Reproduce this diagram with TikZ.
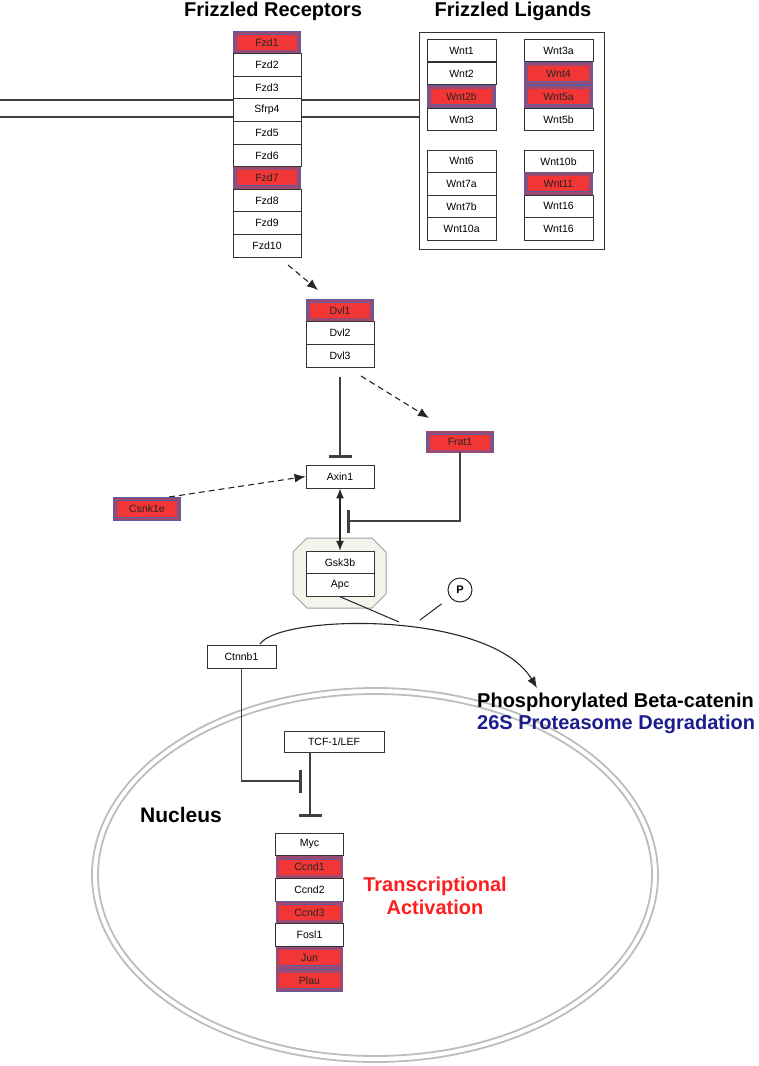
\documentclass[tikz,border=0pt]{standalone}
\usepackage{fontspec}
\setmainfont{Liberation Sans}
\usetikzlibrary{arrows.meta,calc}
\definecolor{hred}{HTML}{F23535}
\definecolor{hmauve}{HTML}{9C4A72}
\definecolor{hblue}{HTML}{5C5CA0}
\definecolor{navy}{HTML}{1C1C8C}
\definecolor{nucgray}{HTML}{BDBDBD}
\definecolor{octfill}{HTML}{F4F4EC}
\definecolor{octline}{HTML}{A0A0A0}
\definecolor{tred}{HTML}{FF1E1E}
\begin{document}
\begin{tikzpicture}[x=1pt,y=-1pt,
  every node/.style={font=\fontsize{10.5}{12}\selectfont},
  wbox/.style={draw=black!80, fill=white, line width=0.9pt, minimum width=68pt, minimum height=22.6pt, inner sep=0pt},
  hbox/.style={draw=hblue, double=hmauve, double distance=2.8pt, line width=0.5pt, fill=hred, minimum width=64pt, minimum height=18.8pt, inner sep=0pt, text=black!85},
  lw/.style={wbox, minimum width=69pt},
  lh/.style={hbox, minimum width=65pt},
  big/.style={font=\bfseries\fontsize{20}{22}\selectfont, inner sep=0pt},
  arr/.style={-{Latex[length=11pt,width=9pt]}, line width=1.1pt, black!85},
  dasharr/.style={arr, dash pattern=on 6pt off 4pt},
  inhib/.style={-{Bar[width=23pt,line width=2.6pt]}, line width=1.1pt, black!75},
  memb/.style={line width=1.1pt, black!75},
  nuc/.style={draw=nucgray, line width=1.8pt}
]
\useasboundingbox (0,0) rectangle (759,1066);

% nucleus
\draw[nuc] (375,875) ellipse [x radius=283, y radius=187];
\draw[nuc] (375,875) ellipse [x radius=277, y radius=181];

% membrane
\draw[memb] (0,100) -- (233,100);
\draw[memb] (0,117) -- (233,117);
\draw[memb] (301,100) -- (419,100);
\draw[memb] (301,117) -- (419,117);

% titles
\node[big] (titR) at (273,11) {Frizzled Receptors};
\node[big] (titL) at (513,11) {Frizzled Ligands};

% receptors
\foreach \t/\s [count=\i from 0] in {Fzd1/hbox,Fzd2/wbox,Fzd3/wbox,Sfrp4/wbox,Fzd5/wbox,Fzd6/wbox,Fzd7/hbox,Fzd8/wbox,Fzd9/wbox,Fzd10/wbox}
  \node[\s] (r\i) at (267,{31+22.6*(\i+0.5)}) {\t};

% ligands
\node[draw=black!80, line width=1pt, minimum width=185pt, minimum height=217pt, inner sep=0pt] (ligbox) at (511.5,140.5) {};
\foreach \t/\s [count=\i from 0] in {Wnt1/lw,Wnt2/lw,Wnt2b/lh,Wnt3/lw}
  \node[\s] (la\i) at (461.5,{39+23*(\i+0.5)}) {\t};
\foreach \t/\s [count=\i from 0] in {Wnt3a/lw,Wnt4/lh,Wnt5a/lh,Wnt5b/lw}
  \node[\s] (lb\i) at (558.5,{39+23*(\i+0.5)}) {\t};
\foreach \t/\s [count=\i from 0] in {Wnt6/lw,Wnt7a/lw,Wnt7b/lw,Wnt10a/lw}
  \node[\s] (lc\i) at (461.5,{150+22.5*(\i+0.5)}) {\t};
\foreach \t/\s [count=\i from 0] in {Wnt10b/lw,Wnt11/lh,Wnt16/lw,Wnt16/lw}
  \node[\s] (ld\i) at (558.5,{150+22.5*(\i+0.5)}) {\t};

% Dvl
\foreach \t/\s [count=\i from 0] in {Dvl1/hbox,Dvl2/wbox,Dvl3/wbox}
  \node[\s] (d\i) at (340,{299+22.7*(\i+0.5)}) {\t};

\node[wbox, minimum height=23pt] (axin) at (340,476.5) {Axin1};
\node[hbox] (frat) at (460,442) {Frat1};
\node[hbox, minimum height=20pt] (csnk) at (147,509) {Csnk1e};

% octagon complex
\draw[fill=octfill, draw=octline, line width=1pt] (307,538) -- (372,538) -- (386,552) -- (386,594) -- (372,608) -- (307,608) -- (293,594) -- (293,552) -- cycle;
\node[wbox, minimum height=22.5pt] (gsk) at (340,562.5) {Gsk3b};
\node[wbox, minimum height=22.5pt] (apc) at (340,585) {Apc};

\node[draw=black!85, line width=1pt, circle, minimum size=24pt, inner sep=0pt, font=\bfseries\fontsize{11}{12}\selectfont] (pc) at (460,590) {P};

\node[wbox, minimum width=69pt, minimum height=23pt] (ctnnb) at (241.5,656.5) {Ctnnb1};
\node[wbox, minimum width=100pt, minimum height=21pt] (tcf) at (334,741.5) {TCF-1/LEF};

% genes
\foreach \t/\s [count=\i from 0] in {Myc/wbox,Ccnd1/hbox,Ccnd2/wbox,Ccnd3/hbox,Fosl1/wbox,Jun/hbox,Plau/hbox}
  \node[\s] (g\i) at (309.5,{833+22.7*(\i+0.5)}) {\t};

% texts
\node[big, anchor=west] (phos) at (477,702) {Phosphorylated Beta-catenin};
\node[big, anchor=west, text=navy] (deg) at (477,724) {26S Proteasome Degradation};
\node[big, text=tred, align=center, font=\bfseries\fontsize{20}{23}\selectfont] (trans) at (435,896) {Transcriptional\\Activation};
\node[big, font=\bfseries\fontsize{21}{23}\selectfont] (nucl) at (181,815) {Nucleus};

% coordinates
\coordinate (fzdS) at (288,265);
\coordinate (dvlT) at (318,290);
\coordinate (dvlS2) at (361,376);
\coordinate (fratT) at (429,418);
\coordinate (csnkS) at (169,497);
\coordinate (fratE) at (347,521);
\coordinate (curS) at (260,644);
\coordinate (curE) at (537,688);
\coordinate (apcE) at (399,622);
\coordinate (pS) at (420,620);
\coordinate (ctE) at (302,781);
\coordinate (tcfE) at (310,817);

% connectors
\draw[dasharr] (fzdS) -- (dvlT);
\draw[dasharr] (dvlS2) -- (fratT);
\draw[dasharr] (csnkS) -- (axin.west);
\draw[inhib, shorten <=9pt, shorten >=7pt] (d2.south) -- (axin.north);
\draw[inhib] (frat.south) |- (fratE);
\draw[{Latex[length=10pt,width=8pt]}-{Latex[length=10pt,width=8pt]}, line width=1.4pt, black!85] (axin.south) -- (gsk.north);
\draw[line width=1pt, black!85] (apc.south) -- (apcE);
\draw[line width=1pt, black!85, shorten >=10.5pt] (pS) -- (pc);
\draw[arr] (curS) .. controls (280,614) and (490,610) .. (curE);
\draw[inhib] (ctnnb.south) |- (ctE);
\draw[inhib] (tcfE |- tcf.south) -- (tcfE);

\end{tikzpicture}
\end{document}
